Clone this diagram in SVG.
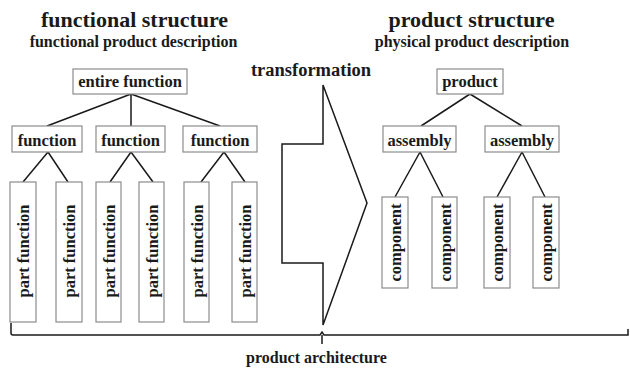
<svg xmlns="http://www.w3.org/2000/svg" width="630" height="369" viewBox="0 0 630 369">
<style>
.bg{fill:#ffffff}
.box{fill:#ffffff;stroke:#8c8c8c;stroke-width:1.2}
.t{font-family:"Liberation Serif","Times New Roman",serif;font-weight:bold;fill:#1a1a1a}
.title{font-size:22px;text-anchor:middle}
.sub{font-size:16px;text-anchor:middle}
.lbl{font-size:16.5px;text-anchor:middle}
.con{fill:none;stroke:#1a1a1a;stroke-width:1.5}
</style>
<rect class="bg" x="0" y="0" width="630" height="369"/>

<g id="titles">
<text class="t title" x="134.5" y="27">functional structure</text>
<text class="t sub" x="133.5" y="47">functional product description</text>
<text class="t title" x="471.5" y="27">product structure</text>
<text class="t sub" x="472" y="47">physical product description</text>
<text class="t" x="311" y="76" style="font-size:18.5px;text-anchor:middle">transformation</text>
<text class="t sub" x="316.5" y="363">product architecture</text>
</g>

<g id="connectors">
<path class="con" d="M131,94 L47,126 M131,94 L131,126 M131,94 L220,126"/>
<path class="con" d="M48,152 L23,182 M48,152 L68,182"/>
<path class="con" d="M131,152 L110,182 M131,152 L153,182"/>
<path class="con" d="M224,152 L201,182 M224,152 L245,182"/>
<path class="con" d="M470,94 L421,126 M470,94 L522,126"/>
<path class="con" d="M420,152 L395,197 M420,152 L443,197"/>
<path class="con" d="M522,152 L497,197 M522,152 L545,197"/>
</g>

<g id="transformation-arrow">
<polygon class="con" points="323,85 323,144 282,144 282,263 323,263 323,325 367,203"/>
</g>

<g id="architecture-bracket">
<path class="con" d="M11,323 L11,333 Q11,335 13,335 L320,335 L322,332 L324,335 L628,335 L628,329 M322,335 L322,344"/>
</g>

<g id="entire-function"><rect class="box" x="73" y="69" width="114" height="25"/><text class="t lbl" x="130" y="87">entire function</text></g>
<g id="function-1"><rect class="box" x="12" y="126" width="70" height="26"/><text class="t lbl" x="47" y="145.5">function</text></g>
<g id="function-2"><rect class="box" x="96" y="126" width="69" height="26"/><text class="t lbl" x="130.5" y="145.5">function</text></g>
<g id="function-3"><rect class="box" x="183" y="126" width="74" height="26"/><text class="t lbl" x="220" y="145.5">function</text></g>

<g id="part-function-1"><rect class="box" x="10" y="182" width="26" height="140"/><text class="t lbl" transform="translate(29,251) rotate(-90)">part function</text></g>
<g id="part-function-2"><rect class="box" x="56" y="182" width="26" height="140"/><text class="t lbl" transform="translate(75,251) rotate(-90)">part function</text></g>
<g id="part-function-3"><rect class="box" x="96" y="182" width="25" height="140"/><text class="t lbl" transform="translate(114.5,251) rotate(-90)">part function</text></g>
<g id="part-function-4"><rect class="box" x="139" y="182" width="25" height="140"/><text class="t lbl" transform="translate(157.5,251) rotate(-90)">part function</text></g>
<g id="part-function-5"><rect class="box" x="184" y="182" width="25" height="140"/><text class="t lbl" transform="translate(202.5,251) rotate(-90)">part function</text></g>
<g id="part-function-6"><rect class="box" x="232" y="182" width="25" height="140"/><text class="t lbl" transform="translate(250.5,251) rotate(-90)">part function</text></g>

<g id="product"><rect class="box" x="437" y="69" width="66" height="25"/><text class="t lbl" x="470" y="87">product</text></g>
<g id="assembly-1"><rect class="box" x="383" y="126" width="73" height="26"/><text class="t lbl" x="419.5" y="145.5">assembly</text></g>
<g id="assembly-2"><rect class="box" x="485" y="126" width="74" height="26"/><text class="t lbl" x="522" y="145.5">assembly</text></g>

<g id="component-1"><rect class="box" x="382" y="197" width="26" height="91"/><text class="t lbl" transform="translate(401,242.5) rotate(-90)">component</text></g>
<g id="component-2"><rect class="box" x="432" y="197" width="25" height="91"/><text class="t lbl" transform="translate(450.5,242.5) rotate(-90)">component</text></g>
<g id="component-3"><rect class="box" x="484" y="197" width="26" height="91"/><text class="t lbl" transform="translate(503,242.5) rotate(-90)">component</text></g>
<g id="component-4"><rect class="box" x="533" y="197" width="26" height="91"/><text class="t lbl" transform="translate(552,242.5) rotate(-90)">component</text></g>
</svg>
